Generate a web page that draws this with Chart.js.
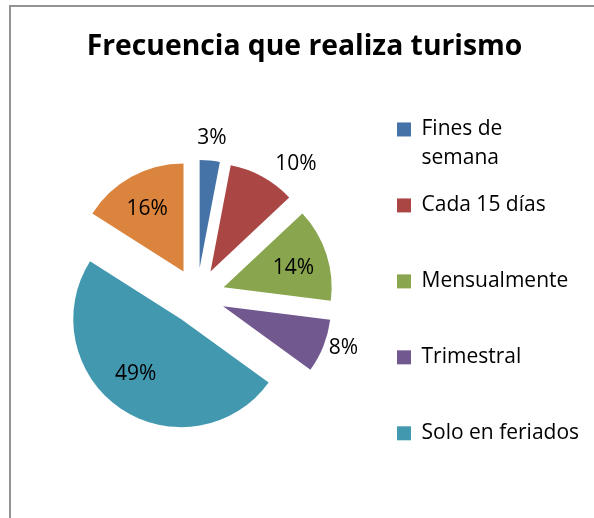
<!DOCTYPE html>
<html>
<head>
<meta charset="utf-8">
<title>Frecuencia que realiza turismo</title>
<script src="https://cdn.jsdelivr.net/npm/chart.js@4.4.1/dist/chart.umd.min.js"></script>
<style>
  html, body { margin: 0; padding: 0; background: #fff; }
  #wrap { position: relative; width: 594px; height: 518px; overflow: hidden; }
  #frame { position: absolute; left: 9px; top: 5px; width: 700px; height: 600px;
           border-top: 2px solid #939393; border-left: 2px solid #939393; }
  #myChart { position: absolute; left: 0; top: 0; }
</style>
</head>
<body>
<div id="wrap">
  <div id="frame"></div>
  <canvas id="myChart" width="594" height="518"></canvas>
</div>
<script>
// datos del grafico
const categories = ['Fines de\nsemana', 'Cada 15 días', 'Mensualmente', 'Trimestral', 'Solo en feriados', ''];
const percentages = [3, 10, 14, 8, 49, 16];
const sliceColors = ['#4572A7', '#AA4643', '#89A54E', '#71588F', '#4198AF', '#DB843D'];

Chart.defaults.font.family = "'Open Sans', sans-serif";

// separa cada porcion del centro
const explodePlugin = {
  id: 'explode',
  beforeDatasetDraw(chart, args, opts) {
    const ctx = chart.ctx;
    args.meta.data.forEach(arc => {
      const mid = (arc.startAngle + arc.endAngle) / 2;
      ctx.save();
      ctx.translate(Math.cos(mid) * opts.distance, Math.sin(mid) * opts.distance);
      arc.draw(ctx);
      ctx.restore();
    });
    return false;
  }
};

// etiquetas de porcentaje
const sliceLabelPlugin = {
  id: 'sliceLabels',
  afterDatasetsDraw(chart, args, opts) {
    const ctx = chart.ctx;
    const meta = chart.getDatasetMeta(0);
    const values = chart.data.datasets[0].data;
    const explode = chart.options.plugins.explode.distance;
    ctx.save();
    ctx.font = opts.size + "px 'Open Sans', sans-serif";
    ctx.fillStyle = '#000';
    ctx.textAlign = 'center';
    ctx.textBaseline = 'middle';
    meta.data.forEach((arc, i) => {
      const mid = (arc.startAngle + arc.endAngle) / 2 + opts.nudge[i] * Math.PI / 180;
      const dist = explode + opts.radial[i] * arc.outerRadius;
      ctx.fillText(values[i] + '%', arc.x + Math.cos(mid) * dist, arc.y + Math.sin(mid) * dist);
    });
    ctx.restore();
  }
};

// ancho fijo para la leyenda
const legendWidthPlugin = {
  id: 'legendWidth',
  beforeInit(chart, args, opts) {
    const fit = chart.legend.fit;
    chart.legend.fit = function() {
      fit.call(this);
      this.width = opts.width;
    };
  }
};

const ctx = document.getElementById('myChart').getContext('2d');

const myChart = new Chart(ctx, {
  type: 'pie',
  data: {
    labels: categories,
    datasets: [{
      data: percentages,
      backgroundColor: sliceColors,
      borderWidth: 0,
      radius: 108
    }]
  },
  options: {
    responsive: false,
    animation: false,
    devicePixelRatio: 1,
    layout: {
      padding: { left: 15, right: 0, top: 0, bottom: 27 }
    },
    plugins: {
      title: {
        display: true,
        text: 'Frecuencia que realiza turismo',
        color: '#000',
        font: { size: 28.3, weight: 'bold', lineHeight: 1.2 },
        padding: { top: 30, bottom: 37 }
      },
      legend: {
        position: 'right',
        align: 'start',
        fullSize: false,
        labels: {
          boxWidth: 14,
          boxHeight: 14,
          padding: 18,
          color: '#000',
          font: { size: 21, lineHeight: 1.38 },
          generateLabels(chart) {
            const ds = chart.data.datasets[0];
            const items = [];
            chart.data.labels.forEach((label, i) => {
              if (label === '') return; // sin entrada en la leyenda
              const lines = label.split('\n');
              while (lines.length < 2) lines.push('');
              items.push({
                text: lines,
                fillStyle: ds.backgroundColor[i],
                strokeStyle: ds.backgroundColor[i],
                lineWidth: 0,
                fontColor: '#000',
                hidden: false,
                index: i
              });
            });
            return items;
          }
        }
      },
      tooltip: { enabled: false },
      explode: { distance: 28 },
      sliceLabels: {
        size: 21,
        radial: [1.21, 1.27, 0.67, 1.18, 0.66, 0.67],
        nudge: [0, 8, 2, -2, 4, -1]
      },
      legendWidth: { width: 215 }
    }
  },
  plugins: [explodePlugin, sliceLabelPlugin, legendWidthPlugin]
});
</script>
</body>
</html>
